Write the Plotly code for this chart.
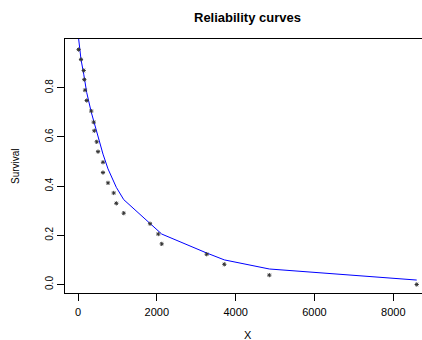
import plotly.graph_objects as go

# Observed (empirical) points
x_obs = [15, 76, 145, 160, 178, 221, 337, 398, 414, 474, 508, 634, 634, 761, 906, 972,
         1160, 1827, 2037, 2124, 3265, 3712, 4854, 8594]
surv_obs = [0.955, 0.915, 0.870, 0.833, 0.790, 0.748, 0.705, 0.660, 0.625, 0.580, 0.540,
            0.497, 0.455, 0.413, 0.372, 0.330, 0.290, 0.247, 0.205, 0.165, 0.123, 0.082,
            0.038, 0.000]
# Fitted reliability curve evaluated at the observed times
surv_fit = [1.00, 0.915, 0.855, 0.84, 0.82, 0.78, 0.70, 0.665, 0.655, 0.615, 0.595,
            0.53, 0.53, 0.47, 0.415, 0.395, 0.345, 0.25, 0.22, 0.205, 0.128, 0.10,
            0.063, 0.018]

x_ticks = [0, 2000, 4000, 6000, 8000]
y_ticks = [0.0, 0.2, 0.4, 0.6, 0.8]
y_tick_labels = ["0.0", "0.2", "0.4", "0.6", "0.8"]

FONT = "Liberation Sans, Arial, Helvetica, sans-serif"

fig = go.Figure()
fig.add_trace(go.Scatter(x=x_obs, y=surv_fit, mode="lines",
                         line=dict(color="#0000ff", width=1), showlegend=False))
fig.add_trace(go.Scatter(x=x_obs, y=surv_obs, mode="markers",
                         marker=dict(symbol="asterisk-open", size=3.5, color="#333333",
                                     line=dict(color="#333333", width=1)),
                         showlegend=False))

fig.update_layout(
    width=422, height=340,
    margin=dict(l=65, r=0, t=39, b=47, pad=0),
    paper_bgcolor="white", plot_bgcolor="white",
    font=dict(family=FONT, color="black"),
    xaxis=dict(range=[-330, 8728], tickvals=x_ticks, ticks="outside", ticklen=7,
               tickcolor="black", tickwidth=1, showline=True, linecolor="black",
               linewidth=1, mirror=True, showgrid=False, zeroline=False,
               tickfont=dict(size=11, family=FONT, color="black"),
               ticklabelstandoff=2),
    yaxis=dict(range=[-0.0346, 0.998], tickvals=y_ticks, ticktext=y_tick_labels,
               tickangle=-90, ticks="outside", ticklen=7, tickcolor="black",
               tickwidth=1, showline=True, linecolor="black", linewidth=1,
               showgrid=False, zeroline=False,
               tickfont=dict(size=10, family=FONT, color="black")),
    annotations=[
        dict(text="<b>Reliability curves</b>", xref="paper", yref="paper",
             x=0.5126, y=1.0827, xanchor="center", yanchor="middle",
             showarrow=False, font=dict(size=13, family=FONT, color="black")),
        dict(text="X", xref="paper", yref="paper", x=0.5126, y=-0.165,
             xanchor="center", yanchor="middle", showarrow=False,
             font=dict(size=11, family=FONT, color="black")),
        dict(text="Survival", xref="paper", yref="paper", x=-0.14, y=0.5,
             xanchor="center", yanchor="middle", textangle=-90, showarrow=False,
             font=dict(size=10, family=FONT, color="black")),
    ],
)

fig.write_html("out.html", config={"displayModeBar": False},
               post_script="document.body.style.margin='0px';document.body.style.padding='0px';")
